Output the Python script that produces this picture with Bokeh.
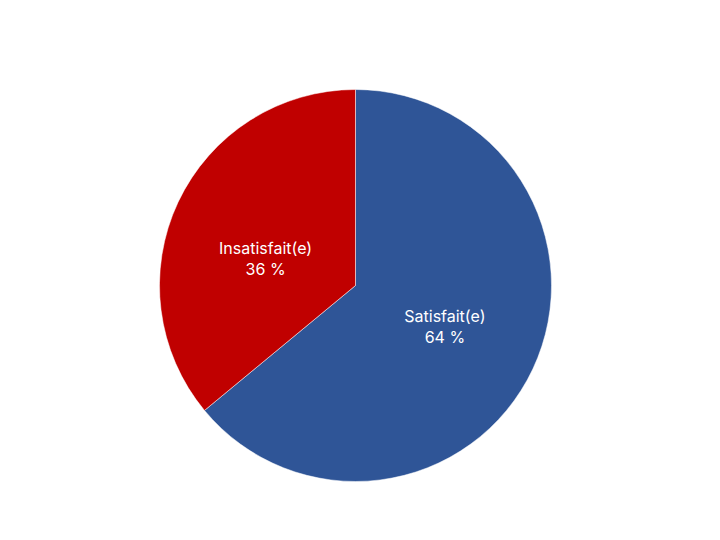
import numpy as np
from bokeh.plotting import figure
from bokeh.models import ColumnDataSource
from bokeh.core.properties import value
from bokeh.embed import file_html
from bokeh.resources import INLINE

# données du sondage
categories = ['Satisfait(e)', 'Insatisfait(e)']
parts = [64, 36]
couleurs = ['#2F5597', '#C00000']

W, H = 704, 524
cx, cy, R = 355, 239, 196

frac = np.array(parts) / sum(parts)
cum = np.concatenate([[0], np.cumsum(frac)])
start = np.pi / 2 - cum[:-1] * 2 * np.pi
end = np.pi / 2 - cum[1:] * 2 * np.pi
mid = (start + end) / 2
# petit décalage des étiquettes, comme dans Excel
mid = mid + np.radians([1, 8])
lr = np.array([0.5, 0.48]) * R

source = ColumnDataSource(data=dict(
    cat=categories, start=start, end=end, color=couleurs,
    lx=cx + lr * np.cos(mid), ly=cy + lr * np.sin(mid),
    lab1=categories, lab2=[f'{v} %' for v in parts],
))

p = figure(width=W, height=H, x_range=(0, W), y_range=(0, H),
           output_backend="svg", toolbar_location=None, min_border=0)
p.axis.visible = False
p.grid.visible = False
p.outline_line_color = None

p.wedge(x=cx, y=cy, radius=R, start_angle='start', end_angle='end',
        direction='clock', fill_color='color', line_color='white',
        line_width=0.5, source=source)

p.text(x='lx', y='ly', text='lab1', source=source, y_offset=-10,
       text_align='center', text_baseline='middle', text_color='white',
       text_font=value("Inter"), text_font_size='16px')
p.text(x='lx', y='ly', text='lab2', source=source, y_offset=11,
       text_align='center', text_baseline='middle', text_color='white',
       text_font=value("Inter"), text_font_size='16px')

open("out.html", "w").write(file_html(p, INLINE))
